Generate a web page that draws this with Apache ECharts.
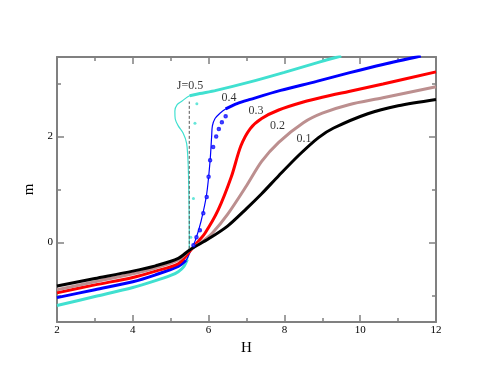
<!DOCTYPE html>
<html>
<head>
<meta charset="utf-8">
<script src="https://cdn.jsdelivr.net/npm/echarts@6/dist/echarts.min.js"></script>
<style>
  html, body { margin: 0; padding: 0; background: #fff; }
  #chart { width: 491px; height: 379px; }
</style>
</head>
<body>
<div id="chart"></div>
<script>
// magnetization curves m(H) for several J
const H_J01 = [2, 3, 4, 4.6, 5.2, 5.5, 6.0, 6.5, 7.0, 7.4, 7.85, 8.4, 8.9, 9.3, 10.2, 11.0, 12];
const M_J01 = [-0.82, -0.68, -0.54, -0.44, -0.30, -0.14, 0.07, 0.31, 0.64, 0.92, 1.26, 1.66, 1.98, 2.16, 2.43, 2.58, 2.70];

const H_J02 = [2, 3, 4, 4.6, 5.2, 5.5, 5.8, 6.1, 6.5, 7.0, 7.4, 7.85, 8.5, 9.0, 9.7, 10.6, 12];
const M_J02 = [-0.89, -0.74, -0.59, -0.48, -0.33, -0.14, 0.0, 0.18, 0.53, 1.07, 1.53, 1.89, 2.26, 2.44, 2.60, 2.73, 2.94];

const H_J03 = [2, 3, 4, 4.6, 5.2, 5.5, 5.7, 5.9, 6.25, 6.6, 6.85, 7.1, 7.4, 7.85, 8.5, 9.0, 9.7, 10.6, 12];
const M_J03 = [-0.95, -0.80, -0.66, -0.54, -0.40, -0.17, 0.0, 0.17, 0.61, 1.24, 1.82, 2.15, 2.34, 2.50, 2.65, 2.74, 2.85, 2.99, 3.22];

const H_J04 = [2, 3, 4, 4.6, 5.2, 5.4, 5.55, 5.65, 5.8, 5.95, 6.04, 6.08, 6.1, 6.17, 6.3, 6.45, 6.75, 7.1, 7.9, 8.85, 9.7, 10.6, 11.6];
const M_J04 = [-1.04, -0.89, -0.74, -0.61, -0.45, -0.34, -0.12, 0.04, 0.40, 0.92, 1.55, 2.0, 2.2, 2.34, 2.44, 2.52, 2.62, 2.70, 2.87, 3.04, 3.20, 3.36, 3.52];
// simulation points J=0.4
const H_J04_DOTS = [5.6, 5.68, 5.77, 5.86, 5.95, 6.0, 6.04, 6.12, 6.2, 6.27, 6.35, 6.45];
const M_J04_DOTS = [-0.05, 0.1, 0.23, 0.55, 0.86, 1.24, 1.55, 1.80, 2.0, 2.14, 2.27, 2.38];

const H_J05 = [2, 3, 4, 4.6, 5.0, 5.2, 5.34, 5.44, 5.49, 5.49, 5.48, 5.46, 5.42, 5.33, 5.2, 5.12, 5.11, 5.17, 5.3, 5.5, 5.77, 6.2, 7.1, 8.0, 8.85, 9.5];
const M_J05 = [-1.19, -1.02, -0.85, -0.72, -0.62, -0.55, -0.46, -0.32, -0.1, 0.23, 0.86, 1.49, 1.87, 2.06, 2.2, 2.33, 2.48, 2.6, 2.67, 2.77, 2.81, 2.87, 3.03, 3.21, 3.39, 3.52];
const H_J05_DOTS = [5.53, 5.6, 5.64, 5.69];
const M_J05_DOTS = [0.1, 0.83, 2.25, 2.62];

// Maxwell line for J=0.5
const H_MAXWELL = [5.49, 5.49];
const M_MAXWELL = [-0.12, 2.66];

// curve labels
const LABEL_TEXT = ['J=0.5', '0.4', '0.3', '0.2', '0.1'];
const LABEL_H = [5.51, 6.54, 7.25, 7.82, 8.52];
const LABEL_M = [2.95, 2.73, 2.48, 2.20, 1.95];

const X_TICKS_MAJOR = 2;
const Y_LABELS = [0, 2];
const Y_MINOR = [-1, 1, 3];

const pts = (hs, ms) => hs.map((h, i) => [h, ms[i]]);

const FONT = '"Liberation Serif", "DejaVu Serif", serif';
const AXIS_COLOR = '#808080';

const chart = echarts.init(document.getElementById('chart'));

const lineSeries = (data, color, width, z) => ({
    type: 'line',
    data: data,
    showSymbol: false,
    smooth: 0.3,
    lineStyle: { color: color, width: width },
    itemStyle: { color: color },
    silent: true,
    animation: false,
    z: z || 2
});

const j04 = pts(H_J04, M_J04);
const j05 = pts(H_J05, M_J05);

const xBase = {
    type: 'value', min: 2, max: 12, interval: X_TICKS_MAJOR,
    axisLine: { show: true, onZero: false, lineStyle: { color: AXIS_COLOR, width: 2 } },
    axisTick: { inside: true, length: 7, lineStyle: { color: AXIS_COLOR, width: 1.5 } },
    minorTick: { show: true, splitNumber: 2, length: 4, lineStyle: { color: AXIS_COLOR, width: 1.5 } },
    splitLine: { show: false }
};

const yBase = (pos, values, len, line) => ({
    type: 'value', min: -1.5, max: 3.5, position: pos,
    axisLine: { show: line, onZero: false, lineStyle: { color: AXIS_COLOR, width: 2 } },
    axisTick: { show: true, inside: true, length: len, customValues: values, lineStyle: { color: AXIS_COLOR, width: 1.5 } },
    axisLabel: { show: false },
    splitLine: { show: false }
});

const yLeft = yBase('left', Y_LABELS, 7, true);
yLeft.axisLabel = { show: true, customValues: Y_LABELS, color: '#000', fontFamily: FONT, fontSize: 11, margin: 4 };
yLeft.name = 'm';
yLeft.nameLocation = 'middle';
yLeft.nameGap = 12;
yLeft.nameTextStyle = { fontFamily: FONT, fontSize: 15, color: '#000' };

const option = {
    backgroundColor: '#fff',
    animation: false,
    grid: { left: 57, right: 55, top: 57, bottom: 57, containLabel: false },
    xAxis: [
        Object.assign({}, xBase, {
            position: 'bottom',
            name: 'H', nameLocation: 'middle', nameGap: 14,
            nameTextStyle: { fontFamily: FONT, fontSize: 15, color: '#000' },
            axisLabel: { color: '#000', fontFamily: FONT, fontSize: 11, margin: 3 }
        }),
        Object.assign({}, xBase, { position: 'top', axisLabel: { show: false } })
    ],
    yAxis: [
        yLeft,
        yBase('left', Y_MINOR, 4, false),
        yBase('right', Y_LABELS, 7, true),
        yBase('right', Y_MINOR, 4, false)
    ],
    series: [
        lineSeries(pts(H_J01, M_J01), '#000000', 3, 5),
        lineSeries(pts(H_J02, M_J02), '#bc8f8f', 3, 4),
        lineSeries(pts(H_J03, M_J03), '#ff0000', 3, 3),
        // J=0.4: thin through the jump, thick outside
        lineSeries(j04, '#0000ff', 1.2, 2),
        lineSeries(j04.filter(p => p[0] <= 5.4), '#0000ff', 3, 2),
        lineSeries(j04.filter(p => p[0] >= 6.45), '#0000ff', 3, 2),
        {
            type: 'scatter', data: pts(H_J04_DOTS, M_J04_DOTS),
            symbol: 'emptyCircle', symbolSize: 2.5,
            itemStyle: { color: '#0000ff', borderColor: '#0000ff', borderWidth: 1 },
            silent: true, z: 6
        },
        // J=0.5: thin S-curve, thick stable branches
        lineSeries(j05, '#40e0d0', 1.2, 1),
        lineSeries(j05.filter(p => p[1] <= -0.3), '#40e0d0', 3, 1),
        lineSeries(j05.filter(p => p[1] >= 2.77), '#40e0d0', 3, 1),
        {
            type: 'scatter', data: pts(H_J05_DOTS, M_J05_DOTS),
            symbol: 'circle', symbolSize: 3,
            itemStyle: { color: '#40e0d0' },
            silent: true, z: 6
        },
        {
            type: 'line', data: pts(H_MAXWELL, M_MAXWELL),
            showSymbol: false,
            lineStyle: { color: '#555555', width: 1, type: [3, 2] },
            silent: true, z: 7
        },
        {
            type: 'scatter',
            data: LABEL_TEXT.map((t, i) => ({ name: t, value: [LABEL_H[i], LABEL_M[i]] })),
            symbolSize: 0,
            label: {
                show: true, position: 'inside', formatter: '{b}',
                color: '#000', fontFamily: FONT, fontSize: 12
            },
            silent: true, z: 8
        }
    ]
};

chart.setOption(option);
</script>
</body>
</html>
